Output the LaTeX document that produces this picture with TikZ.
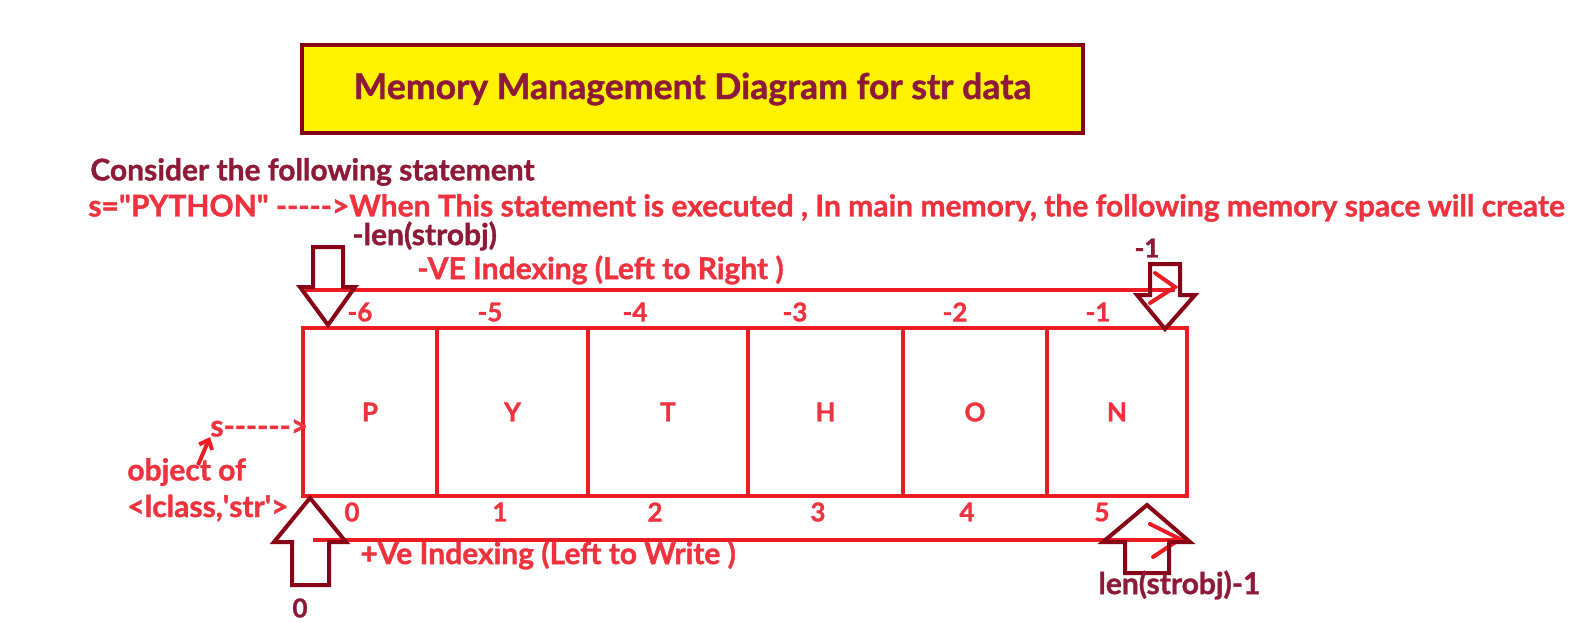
\documentclass[tikz,border=0pt]{standalone}
\usepackage{fontspec}
\setmainfont{Lato}[BoldFeatures={FakeBold=1.2}]
\usepackage{tikz}
\usetikzlibrary{arrows.meta,positioning}

\definecolor{paintred}{RGB}{237,28,36}
\definecolor{textred}{RGB}{238,50,62}
\definecolor{darkmaroon}{RGB}{136,0,21}
\definecolor{textmaroon}{RGB}{140,26,56}
\definecolor{titleyellow}{RGB}{255,242,0}

\begin{document}
\begin{tikzpicture}[
        x=0.5pt, y=-0.5pt,
        title/.style={
            rectangle,
            draw=darkmaroon,
            fill=titleyellow,
            line width=2pt,
            minimum width=390.5pt,
            minimum height=44pt,
            font=\fontsize{17.8}{21}\selectfont\bfseries,
            text=textmaroon
        },
        note/.style={anchor=west, inner sep=0pt, font=\fontsize{15}{18}\selectfont\bfseries, text=textred},
        darknote/.style={note, text=textmaroon},
        idx/.style={inner sep=0pt, font=\fontsize{13}{15}\selectfont\bfseries, text=textred},
        cell/.style={
            rectangle,
            draw=paintred,
            line width=2pt,
            minimum height=84pt,
            inner sep=0pt,
            font=\fontsize{13}{15}\selectfont\bfseries,
            text=textred
        },
        indexline/.style={draw=paintred, line width=2pt},
        blockarrow/.style={draw=darkmaroon, line width=2pt, line join=miter}
    ]
        \useasboundingbox (0,0) rectangle (1572,622);

        % Title
        \node[title] (heading) at (692.5,89) {Memory Management Diagram for str data};

        % Statement text
        \node[darknote, font=\fontsize{15}{18}\selectfont\bfseries] (consider) at (90,172) {Consider the following statement};
        \node[note] (statement) at (88,208) {s=\textquotedbl PYTHON\textquotedbl{} -{}-{}-{}-{}->When This statement is executed , In main memory, the following memory space will create};

        % Memory cells
        \node[cell, minimum width=67pt] (cellP) at (370,412) {P};
        \node[cell, minimum width=75.5pt] (cellY) at (512.5,412) {Y};
        \node[cell, minimum width=80pt] (cellT) at (668,412) {T};
        \node[cell, minimum width=77.5pt] (cellH) at (825.5,412) {H};
        \node[cell, minimum width=72pt] (cellO) at (975,412) {O};
        \node[cell, minimum width=70pt] (cellN) at (1117,412) {N};

        % Negative indexes
        \node[idx] (neg6) at (360,312) {-6};
        \node[idx] (neg5) at (490,312) {-5};
        \node[idx] (neg4) at (635,312) {-4};
        \node[idx] (neg3) at (795,312) {-3};
        \node[idx] (neg2) at (955,312) {-2};
        \node[idx] (neg1) at (1098,312) {-1};

        % Positive indexes
        \node[idx] (pos0) at (352,512) {0};
        \node[idx] (pos1) at (500,512) {1};
        \node[idx] (pos2) at (655,512) {2};
        \node[idx] (pos3) at (818,512) {3};
        \node[idx] (pos4) at (967,512) {4};
        \node[idx] (pos5) at (1102,512) {5};

        % Index direction lines
        \coordinate (negstart) at (305,290);
        \coordinate (negend) at (1175,290);
        \coordinate (posstart) at (313,540);
        \coordinate (posend) at (1185,540);
        \draw[indexline] (negstart) -- (negend);
        \draw[indexline, line cap=round] (1155,273) -- (1175,287) -- (1150,303);
        \draw[indexline] (posstart) -- (posend);
        \draw[indexline, line cap=round] (1150,524) -- (1180,539) -- (1153,557);
        \node[note] (neglabel) at (417,270) {-VE Indexing (Left to Right )};
        \node[note] (poslabel) at (360,555) {+Ve Indexing (Left to Write )};

        % Block arrows
        \draw[blockarrow] (313,247) -- (343,247) -- (343,287) -- (355,287) -- (328,325) -- (300,287) -- (313,287) -- cycle;
        \draw[blockarrow] (1150,264) -- (1180,264) -- (1180,295) -- (1195,295) -- (1165,329) -- (1137,295) -- (1150,295) -- cycle;
        \draw[blockarrow] (292,585) -- (329,585) -- (329,542) -- (346,542) -- (310,498) -- (274,542) -- (292,542) -- cycle;
        \draw[blockarrow] (1125,573) -- (1169,573) -- (1169,542) -- (1190,542) -- (1147,505) -- (1103,542) -- (1125,542) -- cycle;

        % Arrow labels
        \node[darknote] (lenneg) at (352,236) {-len(strobj)};
        \node[idx, text=textmaroon] (lastneg) at (1147,248) {-1};
        \node[idx, text=textmaroon] (firstpos) at (300,608) {0};
        \node[darknote] (lenpos) at (1098,585) {len(strobj)-1};

        % Reference variable
        \node[note] (sref) at (210,428) {s-{}-{}-{}-{}-{}->};
        \node[note] (objof) at (127,472) {object of};
        \node[note] (objclass) at (127,508) {<lclass,\textquotesingle str\textquotesingle>};
        \coordinate (stail) at (198,465);
        \draw[draw=paintred, line width=2pt, -{Straight Barb[length=4pt,width=7pt]}] (stail) -- (sref.south west);

    \end{tikzpicture}
\end{document}
